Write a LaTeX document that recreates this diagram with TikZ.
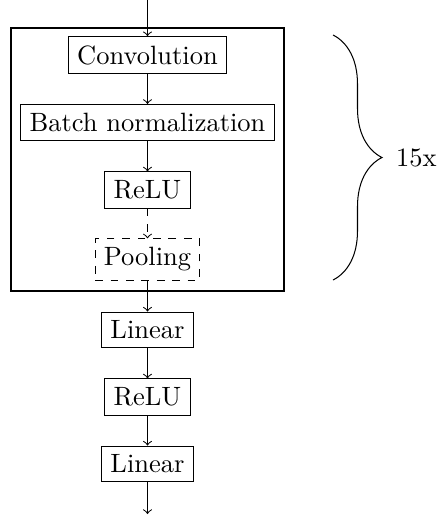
\documentclass[tikz,border=0pt]{standalone}
\usetikzlibrary{decorations.pathreplacing}
\begin{document}
\begin{tikzpicture}[x=0.389pt,y=-0.389pt,
  every node/.style={font=\fontsize{10.3}{12.4}\selectfont},
  layer/.style={draw,inner sep=3.4pt},
  optlayer/.style={draw,dashed,inner sep=3.4pt},
  flow/.style={->},
  outerbox/.style={draw,minimum width=273*0.389pt,minimum height=263*0.389pt,inner sep=0pt}]
\useasboundingbox (0,0) rectangle (437,516);
\node[outerbox] (blk) at (147.5,159.5) {};
\node[layer] (conv) at (147.5,55) {Convolution};
\node[layer] (bn) at (147.5,122.5) {Batch normalization};
\node[layer] (relu1) at (147.5,190) {ReLU};
\node[optlayer] (pool) at (147.5,259.5) {Pooling};
\node[layer] (lin1) at (147.5,330) {Linear};
\node[layer] (relu2) at (147.5,397) {ReLU};
\node[layer] (lin2) at (147.5,464) {Linear};
\coordinate (in) at (147.5,0);
\coordinate (out) at (147.5,514);
\draw[flow] (in) -- (conv);
\draw[flow] (conv) -- (bn);
\draw[flow] (bn) -- (relu1);
\draw[flow,dashed] (relu1) -- (pool);
\draw[flow] (pool) -- (lin1);
\draw[flow] (lin1) -- (relu2);
\draw[flow] (relu2) -- (lin2);
\draw[flow] (lin2) -- (out);
\coordinate (btop) at (333,35);
\coordinate (bbot) at (333,280);
\draw[decorate,decoration={brace,amplitude=49*0.389pt}] (btop) -- (bbot) node[midway,right=49*0.389pt+2pt] (rep) {15x};
\end{tikzpicture}
\end{document}
